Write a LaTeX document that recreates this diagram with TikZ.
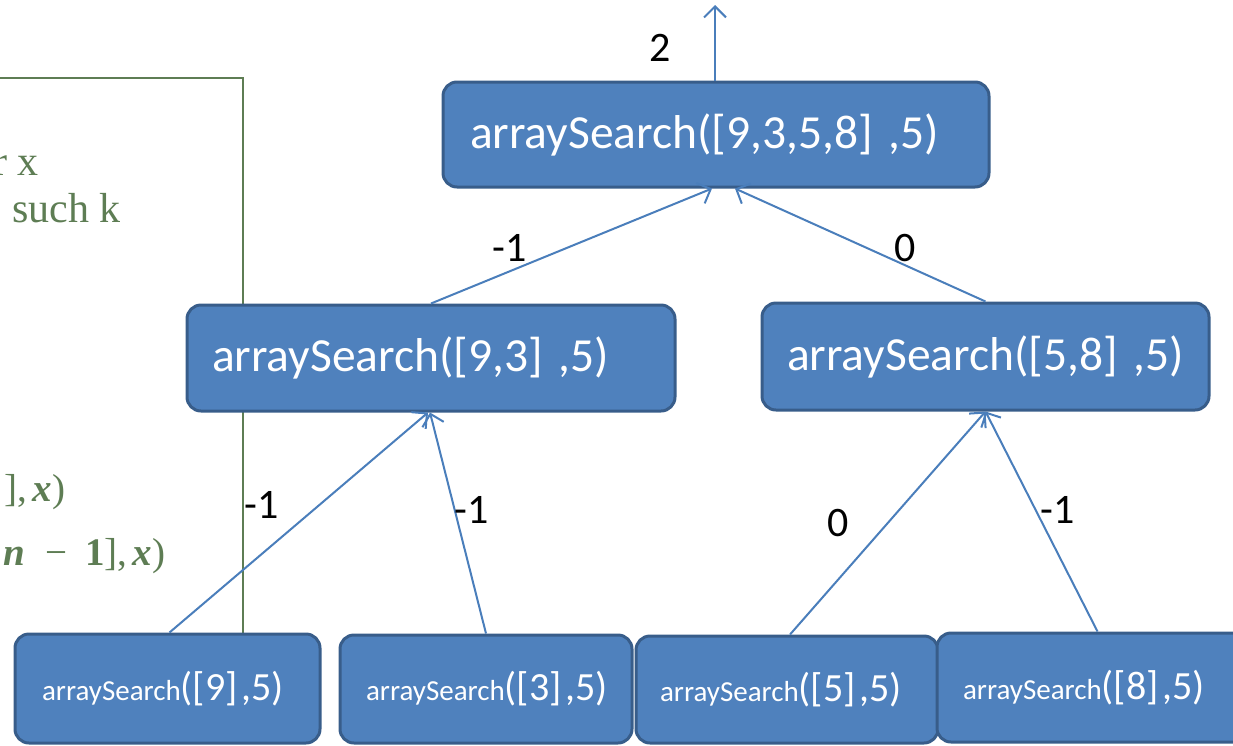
\documentclass[tikz,border=0pt]{standalone}
\usepackage{fontspec}
\setmainfont{Liberation Serif}
\newfontfamily\calfont{Carlito}
\usetikzlibrary{arrows.meta}
\definecolor{boxfill}{HTML}{4F81BD}
\definecolor{boxborder}{HTML}{385D8A}
\definecolor{edgeblue}{HTML}{4A7EBB}
\definecolor{leafgreen}{HTML}{5E7D54}
\tikzset{
  callbox/.style={draw=boxborder, fill=boxfill, line width=3pt, rounded corners=14pt,
    text=white, font=\calfont, align=left, inner ysep=0pt},
  bigtxt/.style={font={\calfont\fontsize{47.5}{52}\selectfont}},
  edgeline/.style={draw=edgeblue, line width=2pt, -{Straight Barb[length=11pt,width=22pt,line width=2pt]}},
  vallabel/.style={font={\calfont\fontsize{42}{46}\selectfont}, text=black, inner sep=0pt},
  greentext/.style={text=leafgreen, inner sep=0pt, font={\fontsize{42}{46}\selectfont}},
  greenmath/.style={text=leafgreen, inner sep=0pt, font={\fontsize{39}{42}\selectfont}},
}
\newcommand{\smallas}{{\fontsize{29}{31}\selectfont arraySearch}}
\newcommand{\bigpart}[1]{{\fontsize{40}{44}\selectfont #1}}
\begin{document}
\begin{tikzpicture}[x=1pt,y=-1pt]
\useasboundingbox (0,0) rectangle (1233,745);
\clip (0,0) rectangle (1233,745);
% partial green frame of the slide text box
\draw[leafgreen, line width=1.5pt] (-5,78) -- (243,78) -- (243,720);
\node[greentext, anchor=base east] (gt1) at (39,175) {r x};
\node[greentext, anchor=base east] (gt2) at (121,222) {such k};
\node[greenmath, anchor=base east] (gm1) at (66,501) {],\hspace{5pt}\textbf{\textit{x}}\hspace{1pt})};
\node[greenmath, anchor=base east] (gm2) at (166,565) {\textbf{\textit{n}}\hspace{20pt}−\hspace{18pt}\textbf{1}],\hspace{5pt}\textbf{\textit{x}}\hspace{1pt})};
% boxes
\node[callbox, bigtxt, minimum height=105pt, inner xsep=27pt, text width=492pt] (top) at (716,134.5) {\mbox{arraySearch([9,3,5,8] ,5)}};
\node[callbox, bigtxt, minimum height=106pt, inner xsep=25pt, text width=438pt] (ml) at (431,358) {\mbox{arraySearch([9,3] ,5)}};
\node[callbox, bigtxt, minimum height=107pt, inner xsep=25pt, text width=397pt] (mr) at (985.5,356.5) {\mbox{arraySearch([5,8] ,5)}};
\node[callbox, minimum height=109pt, inner xsep=27pt, text width=251pt] (b1) at (167.5,688.5) {\mbox{\smallas\bigpart{([9] ,5)}}};
\node[callbox, minimum height=108pt, inner xsep=26pt, text width=240pt] (b2) at (486,689) {\mbox{\smallas\bigpart{([3] ,5)}}};
\node[callbox, minimum height=107pt, inner xsep=24pt, text width=254pt] (b3) at (787,689.5) {\mbox{\smallas\bigpart{([5] ,5)}}};
\node[callbox, minimum height=109pt, inner xsep=26pt, text width=271pt] (b4) at (1098.5,687.5) {\mbox{\smallas\bigpart{([8] ,5)}}};
% result arrow out of the top call
\coordinate (out) at (715,5);
\draw[edgeline] ([xshift=-1pt]top.north) -- (out);
% edges
\draw[edgeline] (ml.north) -- ([xshift=-4pt]top.south);
\draw[edgeline] (mr.north) -- ([xshift=19pt]top.south);
\draw[edgeline] ([xshift=2pt]b1.north) -- ([xshift=-3pt]ml.south);
\draw[edgeline] (b2.north) -- ([xshift=-1pt]ml.south);
\draw[edgeline] ([xshift=3pt]b3.north) -- (mr.south);
\draw[edgeline] ([xshift=-1pt]b4.north) -- (mr.south);
% returned values
\node[vallabel] (l0) at (660,48) {2};
\node[vallabel] (l1) at (510,248) {-1};
\node[vallabel] (l2) at (905,248) {0};
\node[vallabel] (l3) at (262,505) {-1};
\node[vallabel] (l4) at (472,510) {-1};
\node[vallabel] (l5) at (838,523) {0};
\node[vallabel] (l6) at (1058,510) {-1};
\end{tikzpicture}
\end{document}
